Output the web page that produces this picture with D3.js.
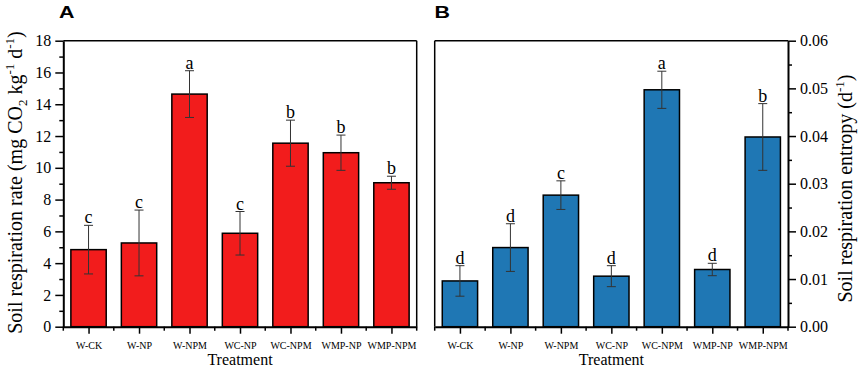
<!DOCTYPE html>
<html>
<head>
<meta charset="utf-8">
<script src="https://cdn.jsdelivr.net/npm/d3@7"></script>
<style>
  html, body { margin: 0; padding: 0; background: #fff; }
  svg { display: block; }
  text { font-family: "Liberation Serif", "Times New Roman", serif; fill: #000; }
</style>
</head>
<body>
<svg id="chart" width="858" height="368"></svg>
<script>
// ---- data ----
const categories = ["W-CK", "W-NP", "W-NPM", "WC-NP", "WC-NPM", "WMP-NP", "WMP-NPM"];
const rateMean = [4.85, 5.27, 14.64, 5.88, 11.55, 10.95, 9.06];
const rateErr = [1.53, 2.07, 1.47, 1.37, 1.45, 1.11, 0.41];
const rateLetters = ["c", "c", "a", "c", "b", "b", "b"];
const entropyMean = [0.0096, 0.0166, 0.0276, 0.0106, 0.0497, 0.0120, 0.0398];
const entropyErr = [0.0032, 0.0050, 0.0030, 0.0022, 0.0039, 0.0013, 0.0070];
const entropyLetters = ["d", "d", "c", "d", "a", "d", "b"];
const rateTicks = [0, 2, 4, 6, 8, 10, 12, 14, 16, 18];
const entropyTicks = [0, 0.01, 0.02, 0.03, 0.04, 0.05, 0.06];

const svg = d3.select("#chart");
const plotTop = 40.7, plotBottom = 326.7;

function panel(opts) {
  const g = svg.append("g");
  const x = d3.scalePoint().domain(categories).range([opts.x0, opts.x1]).padding(0.5);
  const step = x.step();
  const barW = step * 0.7;
  const y = d3.scaleLinear().domain(opts.domain).range([plotBottom, plotTop]);

  const minorY = [];
  for (let i = 0; i < opts.ticks.length - 1; i++) minorY.push((opts.ticks[i] + opts.ticks[i + 1]) / 2);

  // bars
  g.selectAll("rect.bar").data(categories).join("rect")
    .attr("x", d => x(d) - barW / 2)
    .attr("y", (d, i) => y(opts.mean[i]))
    .attr("width", barW)
    .attr("height", (d, i) => y(0) - y(opts.mean[i]))
    .attr("fill", opts.color)
    .attr("stroke", "#000")
    .attr("stroke-width", 1.5);

  // error bars
  const eb = g.selectAll("g.eb").data(categories).join("g");
  eb.append("line")
    .attr("x1", d => x(d)).attr("x2", d => x(d))
    .attr("y1", (d, i) => y(opts.mean[i] + opts.err[i]))
    .attr("y2", (d, i) => y(opts.mean[i] - opts.err[i]))
    .attr("stroke", "#333").attr("stroke-width", 1);
  eb.append("line")
    .attr("x1", d => x(d) - 4.5).attr("x2", d => x(d) + 4.5)
    .attr("y1", (d, i) => y(opts.mean[i] + opts.err[i]))
    .attr("y2", (d, i) => y(opts.mean[i] + opts.err[i]))
    .attr("stroke", "#333").attr("stroke-width", 1);
  eb.append("line")
    .attr("x1", d => x(d) - 4.5).attr("x2", d => x(d) + 4.5)
    .attr("y1", (d, i) => y(opts.mean[i] - opts.err[i]))
    .attr("y2", (d, i) => y(opts.mean[i] - opts.err[i]))
    .attr("stroke", "#333").attr("stroke-width", 1);

  // letters
  g.selectAll("text.letter").data(categories).join("text")
    .attr("x", d => x(d))
    .attr("y", (d, i) => y(opts.mean[i] + opts.err[i]) - 2)
    .attr("text-anchor", "middle")
    .style("font-size", "18px")
    .text((d, i) => opts.letters[i]);

  // frame: thin top + opposite side
  g.append("line").attr("x1", opts.x0).attr("x2", opts.x1).attr("y1", plotTop).attr("y2", plotTop)
    .attr("stroke", "#000").attr("stroke-width", 1.5);
  const ox = opts.side === "left" ? opts.x1 : opts.x0;
  g.append("line").attr("x1", ox).attr("x2", ox).attr("y1", plotTop).attr("y2", plotBottom)
    .attr("stroke", "#000").attr("stroke-width", 1.5);

  // y axis
  const axisX = opts.side === "left" ? opts.x0 : opts.x1;
  const axisGen = opts.side === "left" ? d3.axisLeft(y) : d3.axisRight(y);
  const ya = g.append("g")
    .attr("transform", `translate(${axisX},0)`)
    .call(axisGen.tickValues(opts.ticks).tickFormat(opts.fmt).tickSize(8).tickPadding(4).tickSizeOuter(0));
  ya.select(".domain").attr("stroke-width", 2);
  ya.selectAll(".tick line").attr("stroke-width", 1.5);
  ya.selectAll(".tick text").style("font-size", "16px").style("font-family", '"Liberation Serif", serif');
  const yMinor = g.append("g")
    .attr("transform", `translate(${axisX},0)`)
    .call((opts.side === "left" ? d3.axisLeft(y) : d3.axisRight(y)).tickValues(minorY).tickFormat("").tickSize(4).tickSizeOuter(0));
  yMinor.select(".domain").remove();
  yMinor.selectAll(".tick line").attr("stroke-width", 1.5);

  // x axis
  const xa = g.append("g").attr("transform", `translate(0,${plotBottom})`)
    .call(d3.axisBottom(x).tickSize(7).tickPadding(8).tickSizeOuter(0));
  xa.select(".domain").attr("stroke-width", 2);
  xa.selectAll(".tick line").attr("stroke-width", 1.5);
  xa.selectAll(".tick text").style("font-size", "10px").style("font-family", '"Liberation Serif", serif');
  const bounds = d3.range(categories.length + 1).map(i => opts.x0 + i * step);
  g.selectAll("line.xminor").data(bounds).join("line")
    .attr("x1", d => d).attr("x2", d => d)
    .attr("y1", plotBottom).attr("y2", plotBottom + 4)
    .attr("stroke", "#000").attr("stroke-width", 1.5);

  // x title
  g.append("text")
    .attr("x", (opts.x0 + opts.x1) / 2).attr("y", 365)
    .attr("text-anchor", "middle").style("font-size", "16px")
    .text("Treatment");

  // panel label
  g.append("text")
    .attr("transform", `translate(${opts.labelX},18.3) scale(1.3,1)`)
    .style("font-family", '"Liberation Sans", Arial, sans-serif')
    .style("font-weight", "bold").style("font-size", "16.5px")
    .text(opts.label);

  return g;
}

panel({ x0: 63.3, x1: 416.7, side: "left", domain: [0, 18], ticks: rateTicks, fmt: d3.format("d"),
  mean: rateMean, err: rateErr, letters: rateLetters, color: "#F21C1C", label: "A", labelX: 59 });
panel({ x0: 434.7, x1: 788, side: "right", domain: [0, 0.06], ticks: entropyTicks, fmt: d3.format(".2f"),
  mean: entropyMean, err: entropyErr, letters: entropyLetters, color: "#1F77B4", label: "B", labelX: 434.5 });

// y titles
const tA = svg.append("text")
  .attr("transform", "translate(21.5,182.5) rotate(-90)")
  .attr("text-anchor", "middle").style("font-size", "20px");
tA.append("tspan").text("Soil respiration rate (mg CO");
tA.append("tspan").attr("dy", 5).style("font-size", "13px").text("2");
tA.append("tspan").attr("dy", -5).text(" kg");
tA.append("tspan").attr("dy", -8).style("font-size", "13px").text("-1");
tA.append("tspan").attr("dy", 8).text(" d");
tA.append("tspan").attr("dy", -8).style("font-size", "13px").text("-1");
tA.append("tspan").attr("dy", 8).text(")");

const tB = svg.append("text")
  .attr("transform", "translate(851.5,188.5) rotate(-90)")
  .attr("text-anchor", "middle").style("font-size", "20px");
tB.append("tspan").text("Soil respiration entropy (d");
tB.append("tspan").attr("dy", -8).style("font-size", "13px").text("-1");
tB.append("tspan").attr("dy", 8).text(")");
</script>
</body>
</html>
